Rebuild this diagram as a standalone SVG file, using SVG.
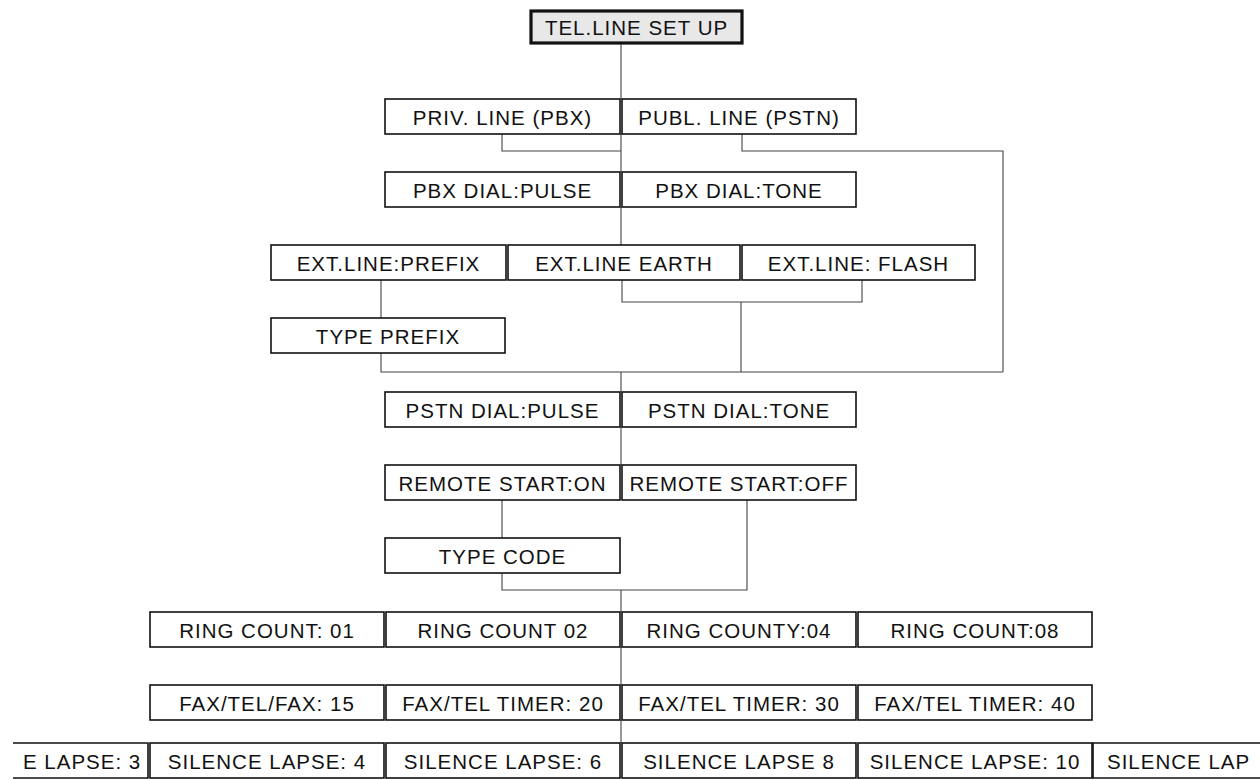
<svg xmlns="http://www.w3.org/2000/svg" width="1260" height="780" viewBox="0 0 1260 780">
<style>
.box{fill:#fff;stroke:#111;stroke-width:1.6}
.top{fill:#e8e8e8;stroke:#111;stroke-width:3.2}
.t{font-family:"Liberation Sans",Arial,sans-serif;font-size:20.5px;letter-spacing:1px;fill:#111;text-anchor:middle;dominant-baseline:central}
.ts{text-anchor:start}
.c{fill:none;stroke:#444;stroke-width:1.1}
</style>
<rect width="1260" height="780" fill="#fff"/>
<g id="connectors">
<path class="c" d="M621 43V99M621 134V172M502 134V151H621M742 134V151H1003V372M621 207V245M381 280V318M381 353V372H1003M622 280V302H862V280M741 302V372M621 372V392M621 427V465M502 500V538M502 573V590H747V500M621 590V612M621 647V685M621 720V743"/>
</g>
<g id="n-telline"><rect class="top" x="531" y="11" width="211" height="32"/><text class="t" x="636.5" y="27.5">TEL.LINE SET UP</text></g>
<g id="n-priv"><rect class="box" x="385" y="99" width="235" height="35"/><text class="t" x="502.5" y="117">PRIV. LINE (PBX)</text></g>
<g id="n-publ"><rect class="box" x="622" y="99" width="234" height="35"/><text class="t" x="739" y="117">PUBL. LINE (PSTN)</text></g>
<g id="n-pbxpulse"><rect class="box" x="385" y="172" width="235" height="35"/><text class="t" x="502.5" y="190">PBX  DIAL:PULSE</text></g>
<g id="n-pbxtone"><rect class="box" x="622" y="172" width="234" height="35"/><text class="t" x="739" y="190">PBX DIAL:TONE</text></g>
<g id="n-extprefix"><rect class="box" x="271" y="245" width="235" height="35"/><text class="t" x="388.5" y="263">EXT.LINE:PREFIX</text></g>
<g id="n-extearth"><rect class="box" x="508" y="245" width="232" height="35"/><text class="t" x="624" y="263">EXT.LINE EARTH</text></g>
<g id="n-extflash"><rect class="box" x="742" y="245" width="233" height="35"/><text class="t" x="858.5" y="263">EXT.LINE: FLASH</text></g>
<g id="n-typeprefix"><rect class="box" x="271" y="318" width="234" height="35"/><text class="t" x="388" y="336">TYPE  PREFIX</text></g>
<g id="n-pstnpulse"><rect class="box" x="385" y="392" width="235" height="35"/><text class="t" x="502.5" y="410">PSTN  DIAL:PULSE</text></g>
<g id="n-pstntone"><rect class="box" x="622" y="392" width="234" height="35"/><text class="t" x="739" y="410">PSTN DIAL:TONE</text></g>
<g id="n-remoteon"><rect class="box" x="385" y="465" width="235" height="35"/><text class="t" x="502.5" y="483">REMOTE START:ON</text></g>
<g id="n-remoteoff"><rect class="box" x="622" y="465" width="234" height="35"/><text class="t" x="739" y="483">REMOTE START:OFF</text></g>
<g id="n-typecode"><rect class="box" x="385" y="538" width="235" height="35"/><text class="t" x="502.5" y="556">TYPE CODE</text></g>
<g id="n-ring01"><rect class="box" x="150" y="612" width="234" height="35"/><text class="t" x="267" y="630">RING COUNT: 01</text></g>
<g id="n-ring02"><rect class="box" x="386" y="612" width="234" height="35"/><text class="t" x="503" y="630">RING COUNT 02</text></g>
<g id="n-ring04"><rect class="box" x="622" y="612" width="234" height="35"/><text class="t" x="739" y="630">RING COUNTY:04</text></g>
<g id="n-ring08"><rect class="box" x="858" y="612" width="234" height="35"/><text class="t" x="975" y="630">RING COUNT:08</text></g>
<g id="n-fax15"><rect class="box" x="150" y="685" width="234" height="35"/><text class="t" x="267" y="703">FAX/TEL/FAX: 15</text></g>
<g id="n-fax20"><rect class="box" x="386" y="685" width="234" height="35"/><text class="t" x="503" y="703">FAX/TEL TIMER: 20</text></g>
<g id="n-fax30"><rect class="box" x="622" y="685" width="234" height="35"/><text class="t" x="739" y="703">FAX/TEL TIMER: 30</text></g>
<g id="n-fax40"><rect class="box" x="858" y="685" width="234" height="35"/><text class="t" x="975" y="703">FAX/TEL TIMER: 40</text></g>
<g id="n-sil3"><path class="box" d="M13 743H148V778H13"/><text class="t ts" x="23" y="761">E LAPSE: 3</text></g>
<g id="n-sil4"><rect class="box" x="150" y="743" width="234" height="35"/><text class="t" x="267" y="761">SILENCE LAPSE: 4</text></g>
<g id="n-sil6"><rect class="box" x="386" y="743" width="234" height="35"/><text class="t" x="503" y="761">SILENCE LAPSE: 6</text></g>
<g id="n-sil8"><rect class="box" x="622" y="743" width="234" height="35"/><text class="t" x="739" y="761">SILENCE LAPSE 8</text></g>
<g id="n-sil10"><rect class="box" x="858" y="743" width="234" height="35"/><text class="t" x="975" y="761">SILENCE LAPSE: 10</text></g>
<g id="n-sillap"><path class="box" d="M1260 743H1093V778H1260"/><text class="t ts" x="1107" y="761">SILENCE LAP</text></g>
</svg>
